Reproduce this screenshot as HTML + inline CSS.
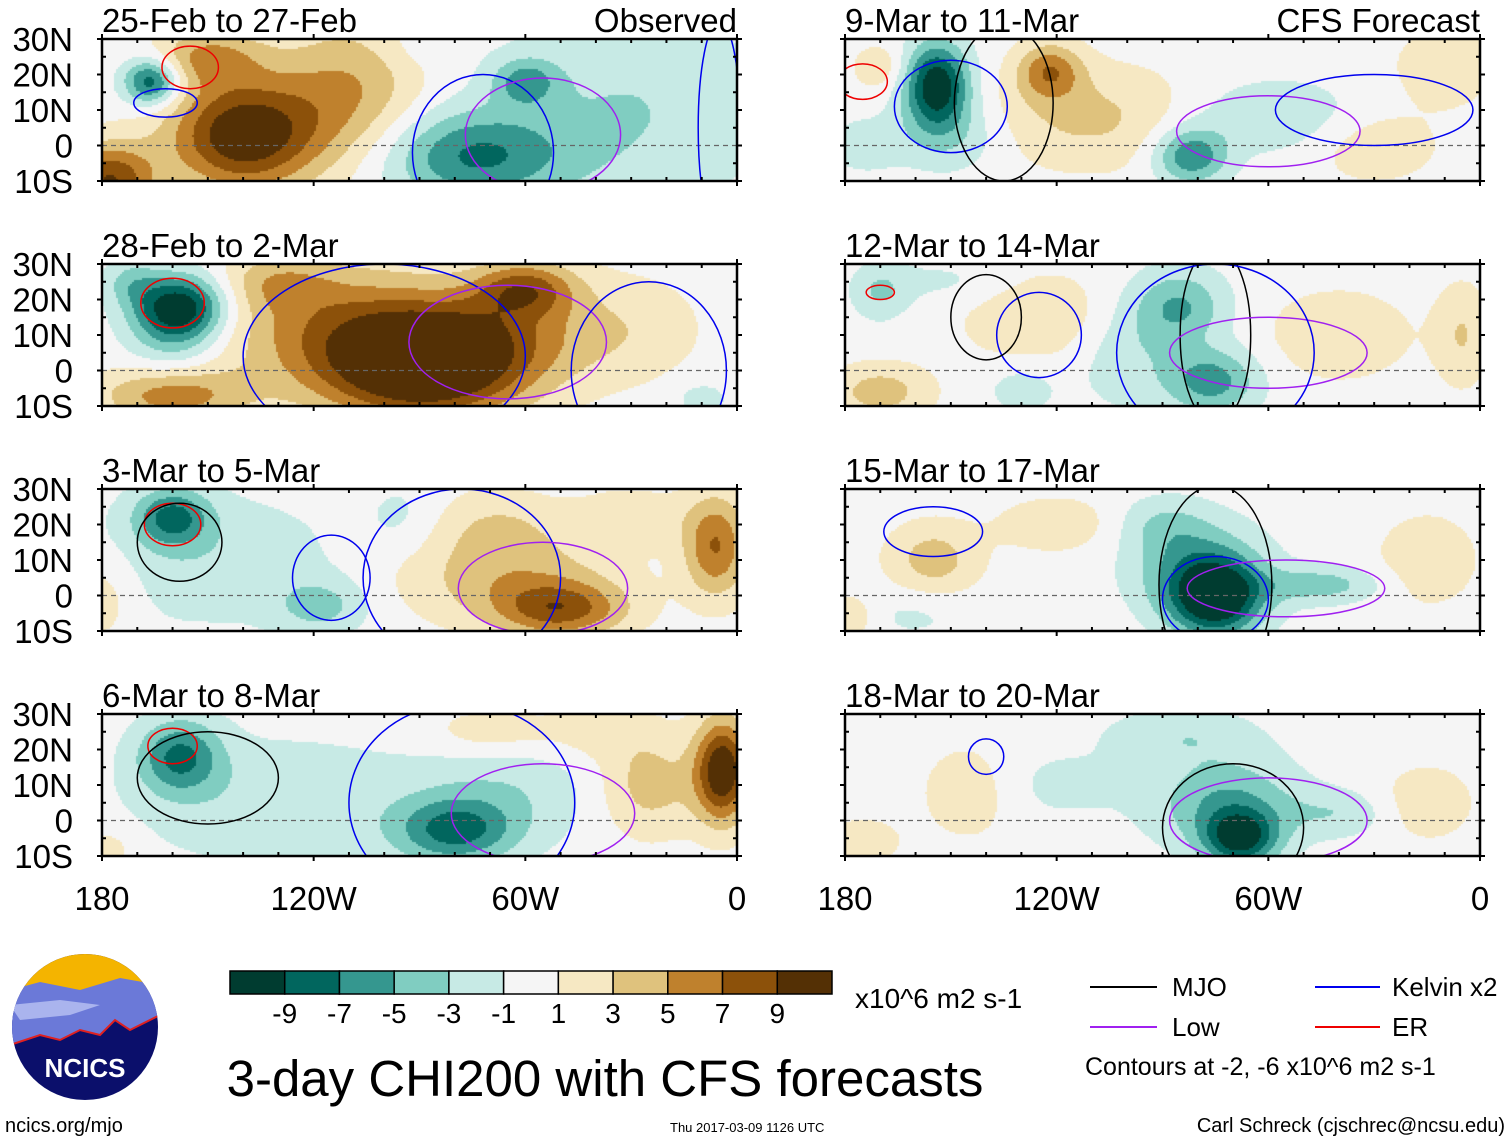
<!DOCTYPE html>
<html><head><meta charset="utf-8"><style>
body{margin:0;background:#fff;width:1510px;height:1142px;overflow:hidden;position:relative;font-family:"Liberation Sans",sans-serif}
#fld{position:absolute;left:0;top:0}
#ov{position:absolute;left:0;top:0}
</style></head><body>
<canvas id="fld" width="1510" height="1142"></canvas>
<svg id="ov" width="1510" height="1142" xmlns="http://www.w3.org/2000/svg">
<g id="panels"></g>
<g>
<clipPath id="lc"><circle cx="85" cy="1027" r="73"/></clipPath>
<g clip-path="url(#lc)">
<rect x="10" y="950" width="150" height="160" fill="#0b0f6b"/>
<rect x="10" y="950" width="150" height="40" fill="#f4b400"/>
<path d="M10 990 L40 982 L80 990 L120 978 L160 985 L160 1015 L130 1030 L115 1020 L100 1035 L80 1030 L60 1040 L40 1035 L10 1045Z" fill="#6b79d8"/>
<path d="M10 1005 L60 1000 L100 1005 L70 1015 L20 1020Z" fill="#aab4ee"/>
<path d="M10 1045 L40 1035 L60 1040 L80 1030 L100 1035 L115 1020 L130 1030 L160 1015" fill="none" stroke="#e02020" stroke-width="2"/>
</g>
<text x="85" y="1077" text-anchor="middle" font-size="26" font-weight="bold" fill="#fff">NCICS</text>
</g>
<g id="cbar"></g>
<text x="855" y="1008" font-size="28">x10^6 m2 s-1</text>
<text x="605" y="1096" text-anchor="middle" font-size="51">3-day CHI200 with CFS forecasts</text>
<g>
<line x1="1090" y1="987" x2="1157" y2="987" stroke="#000" stroke-width="2"/><text x="1172" y="996" font-size="26">MJO</text>
<line x1="1315" y1="987" x2="1380" y2="987" stroke="#0000ee" stroke-width="2"/><text x="1392" y="996" font-size="26">Kelvin x2</text>
<line x1="1090" y1="1027" x2="1157" y2="1027" stroke="#a020f0" stroke-width="2"/><text x="1172" y="1036" font-size="26">Low</text>
<line x1="1315" y1="1027" x2="1380" y2="1027" stroke="#ee0000" stroke-width="2"/><text x="1392" y="1036" font-size="26">ER</text>
<text x="1085" y="1075" font-size="25">Contours at -2, -6 x10^6 m2 s-1</text>
</g>
<text x="5" y="1132" font-size="20">ncics.org/mjo</text>
<text x="670" y="1132" font-size="13">Thu 2017-03-09 1126 UTC</text>
<text x="1505" y="1132" text-anchor="end" font-size="20">Carl Schreck (cjschrec@ncsu.edu)</text>
</svg>
<script>
const colors=["#003c30","#01665e","#35978f","#80cdc1","#c7eae5","#f5f5f5","#f6e8c3","#dfc27d","#bf812d","#8c510a","#543005"];
const levels=[-9,-7,-5,-3,-1,1,3,5,7,9];
const panelTitles=["25-Feb to 27-Feb","28-Feb to 2-Mar","3-Mar to 5-Mar","6-Mar to 8-Mar","9-Mar to 11-Mar","12-Mar to 14-Mar","15-Mar to 17-Mar","18-Mar to 20-Mar"];
const latTicks=[30,20,10,0,-10];
const latLabels=["30N","20N","10N","0","10S"];
const lonTicks=[180,120,60,0];
const lonLabels=["180","120W","60W","0"];
// anomaly centers per panel: [lonW, lat, value, rlon, rlat]
const blobs=[
 [[140,3,11,16,12],[178,-10,9,10,8],[110,15,5,16,16],[150,25,5,12,6],[166,18,-9,6,5],[75,-3,-7,20,10],[60,18,-5,7,5],[30,10,-3,28,22],[90,28,-1,10,5]],
 [[158,18,-11,10,7],[160,8,-3,10,8],[88,0,11,22,11],[110,12,6,28,14],[60,23,7,11,6],[70,10,4,24,10],[160,-7,6,16,6],[130,25,3,12,6],[30,12,2,16,12],[10,-8,-2,6,4],[172,25,-3,6,5]],
 [[160,22,-7,8,6],[150,10,-2.5,28,14],[118,-3,-3.5,10,6],[50,-4,7,14,6],[65,5,4,24,10],[6,14,7,7,11],[68,20,2.5,14,8],[180,0,2.5,8,10],[30,22,2.5,12,6],[95,22,-1.5,8,8]],
 [[158,18,-7,9,8],[130,5,-2.5,32,14],[80,-3,-7,13,7],[65,8,-2.5,20,11],[4,14,11,6,11],[25,10,4,11,11],[70,25,2.5,13,5],[178,-8,2,6,5],[40,25,2,12,6]],
 [[154,17,-11,7,9],[150,3,-3,12,8],[122,21,6,7,6],[110,8,3.5,24,11],[82,-3,-7,8,6],[60,8,-3,20,8],[10,22,3,10,8],[30,0,2.5,14,8],[170,22,2.5,6,5],[175,0,-2,8,6]],
 [[85,18,-5,10,8],[76,-3,-6,10,7],[100,5,-2.5,12,12],[170,-6,4,11,6],[125,15,3,16,10],[40,10,2.5,16,10],[130,-5,-2,8,6],[170,22,-3,6,6],[5,10,3,6,11],[150,25,-1.5,16,5]],
 [[75,-1,-11,10,8],[80,8,-5,14,10],[45,3,-4,13,4],[155,10,4,10,8],[120,20,2.5,13,6],[15,10,2.5,11,10],[90,20,-2.5,10,6],[178,-6,2.5,5,5],[160,-5,-1.5,12,6]],
 [[68,-5,-9,8,6],[72,5,-5,16,10],[85,24,-2.5,16,6],[145,8,2.5,10,10],[15,5,2.5,10,8],[175,-6,2.5,8,5],[40,2,-2.5,11,5],[120,10,-1.5,16,8]]
];
// contour ellipses per panel: [lonW, lat, rlon, rlat, type]
const contours=[
 [[162,12,9,4,"kelvin"],[155,22,8,6,"er"],[72,-2,20,22,"kelvin"],[55,3,22,16,"low"],[5,5,6,30,"kelvin"]],
 [[160,19,9,7,"er"],[100,4,40,26,"kelvin"],[65,8,28,16,"low"],[25,0,22,25,"kelvin"]],
 [[160,20,8,6,"er"],[158,15,12,11,"mjo"],[115,5,11,12,"kelvin"],[78,5,28,25,"kelvin"],[55,2,24,13,"low"]],
 [[160,21,7,5,"er"],[150,12,20,13,"mjo"],[78,5,32,28,"kelvin"],[55,2,26,14,"low"]],
 [[175,18,7,5,"er"],[150,11,16,13,"kelvin"],[135,12,14,22,"mjo"],[60,4,26,10,"low"],[30,10,28,10,"kelvin"]],
 [[170,22,4,2,"er"],[125,10,12,12,"kelvin"],[140,15,10,12,"mjo"],[75,10,10,25,"mjo"],[60,5,28,10,"low"],[75,5,28,25,"kelvin"]],
 [[155,18,14,7,"kelvin"],[75,3,16,28,"mjo"],[75,-1,15,12,"kelvin"],[55,2,28,8,"low"]],
 [[140,18,5,5,"kelvin"],[70,-2,20,18,"mjo"],[60,0,28,12,"low"]]
];
const RSCALE=1.3;
const PX=[102,845], PY=[39,264,489,714], PW=635, PH=142;
function panelPos(i){return {x:PX[i<4?0:1], y:PY[i%4]};}
function xs(p,lon){return p.x+(180-lon)/180*PW;}
function ys(p,lat){return p.y+(30-lat)/40*PH;}
function field(b,lon,lat){let v=0;for(const c of b){const dx=(lon-c[0])/(c[3]*RSCALE),dy=(lat-c[1])/(c[4]*RSCALE);v+=c[2]*Math.exp(-(dx*dx+dy*dy));}return v;}
function colorFor(v){let i=0;while(i<levels.length&&v>levels[i])i++;return colors[i];}
const ctx=document.getElementById('fld').getContext('2d');
const NS="http://www.w3.org/2000/svg";
const G=document.getElementById('panels');
function mk(tag,attrs,parent){const e=document.createElementNS(NS,tag);for(const k in attrs)e.setAttribute(k,attrs[k]);parent.appendChild(e);return e;}
const ccol={mjo:"#000",kelvin:"#0000ee",low:"#a020f0",er:"#ee0000"};
for(let i=0;i<8;i++){
 const p=panelPos(i);
 const step=2;
 for(let px=0;px<PW;px+=step)for(let py=0;py<PH;py+=step){
  const lon=180-(px+step/2)/PW*180, lat=30-(py+step/2)/PH*40;
  ctx.fillStyle=colorFor(field(blobs[i],lon,lat));
  ctx.fillRect(p.x+px,p.y+py,step,step);
 }
 const g=mk('g',{},G);
 
 
 const cid='clip'+i;
 const cp=mk('clipPath',{id:cid},g);mk('rect',{x:p.x,y:p.y,width:PW,height:PH},cp);
 const cg=mk('g',{'clip-path':'url(#'+cid+')'},g);
 const eq=mk('line',{x1:p.x,x2:p.x+PW,y1:ys(p,0),y2:ys(p,0),stroke:'#666','stroke-dasharray':'5,4','stroke-width':1.2},cg);
 
 
 for(const c of contours[i]){
  const e=mk('ellipse',{cx:xs(p,c[0]),cy:ys(p,c[1]),rx:c[2]/180*PW,ry:c[3]/40*PH,fill:'none',stroke:ccol[c[4]],'stroke-width':1.5},cg);
  
  
 }
 const fr=mk('rect',{x:p.x,y:p.y,width:PW,height:PH,fill:'none',stroke:'#000','stroke-width':2.5},g);
 
 
 for(let lon=180;lon>=0;lon-=10){const X=xs(p,lon),mj=lon%60===0;
  mk('line',{x1:X,x2:X,y1:p.y-(mj?5:0),y2:p.y+(mj?0:4),stroke:'#000','stroke-width':2},g);
  mk('line',{x1:X,x2:X,y1:p.y+PH-(mj?0:4),y2:p.y+PH+(mj?5:0),stroke:'#000','stroke-width':2},g);}
 for(let lat=30;lat>=-10;lat-=5){const Y=ys(p,lat),mj=lat%10===0;
  mk('line',{x1:p.x-(mj?5:0),x2:p.x+(mj?0:4),y1:Y,y2:Y,stroke:'#000','stroke-width':2},g);
  mk('line',{x1:p.x+PW-(mj?0:4),x2:p.x+PW+(mj?5:0),y1:Y,y2:Y,stroke:'#000','stroke-width':2},g);}
 const t=mk('text',{x:p.x,y:p.y-7,'font-size':33},g);t.textContent=panelTitles[i];
 
 
 if(i===0||i===4){const s=mk('text',{x:p.x+PW,y:p.y-7,'font-size':33,'text-anchor':'end'},g);s.textContent=i===0?"Observed":"CFS Forecast";
  
  }
 if(i<4){latTicks.forEach((lat,k)=>{const l=mk('text',{x:73,y:ys(p,lat)+12,'font-size':33,'text-anchor':'end'},g);l.textContent=latLabels[k];
  
  });}
 if(i%4===3){lonTicks.forEach((lon,k)=>{const l=mk('text',{x:xs(p,lon),y:910,'font-size':33,'text-anchor':'middle'},g);l.textContent=lonLabels[k];
  
  });}
}
const CB=document.getElementById('cbar');const bw=(832-230)/11;
colors.forEach((c,k)=>{const r=mk('rect',{x:230+k*bw,y:971,width:bw,height:23,fill:c,stroke:'#000','stroke-width':1.5},CB);
 
 });
levels.forEach((v,k)=>{const t=mk('text',{x:230+(k+1)*bw,y:1023,'font-size':28,'text-anchor':'middle'},CB);t.textContent=v;
 
 });
</script>
</body></html>
